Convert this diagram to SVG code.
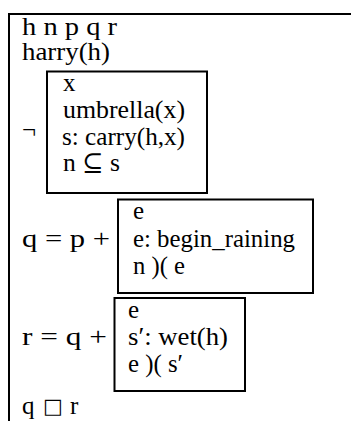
<svg xmlns="http://www.w3.org/2000/svg" width="351" height="421" viewBox="0 0 351 421">
<style>
text{font-family:"Liberation Serif","DejaVu Serif",serif;font-size:25px;fill:#000}
.box{fill:none;stroke:#000;stroke-width:2}
</style>
<rect width="351" height="421" fill="#fff"/>
<g id="outer">
<polyline class="box" points="9,421 9,14 351,14"/>
<text x="22" y="35" textLength="95" lengthAdjust="spacingAndGlyphs">h n p q r</text>
<text x="22" y="60" textLength="88" lengthAdjust="spacingAndGlyphs">harry(h)</text>
<text x="22" y="138">¬</text>
<text x="22" y="247" textLength="88" lengthAdjust="spacingAndGlyphs">q = p +</text>
<text x="22" y="345" textLength="85" lengthAdjust="spacingAndGlyphs">r = q +</text>
<text x="22" y="414">q<tspan x="43" y="413" font-family="DejaVu Sans, sans-serif" font-size="21">□</tspan><tspan x="70" y="414">r</tspan></text>
</g>
<g id="box1">
<rect class="box" x="47" y="71.5" width="160" height="121.5"/>
<text x="63" y="91">x</text>
<text x="63" y="118" textLength="122" lengthAdjust="spacingAndGlyphs">umbrella(x)</text>
<text x="62" y="145" textLength="123" lengthAdjust="spacingAndGlyphs">s: carry(h,x)</text>
<text x="63" y="171" textLength="57" lengthAdjust="spacingAndGlyphs">n ⊆ s</text>
</g>
<g id="box2">
<rect class="box" x="118" y="199.5" width="195" height="93.5"/>
<text x="133" y="219">e</text>
<text x="133" y="247" textLength="162" lengthAdjust="spacingAndGlyphs">e: begin_raining</text>
<text x="133" y="274" textLength="52" lengthAdjust="spacingAndGlyphs">n )( e</text>
</g>
<g id="box3">
<rect class="box" x="114.5" y="298" width="130.5" height="93"/>
<text x="128" y="318">e</text>
<text x="128" y="345" textLength="100" lengthAdjust="spacingAndGlyphs">s′: wet(h)</text>
<text x="128" y="372" textLength="55" lengthAdjust="spacingAndGlyphs">e )( s′</text>
</g>
</svg>
